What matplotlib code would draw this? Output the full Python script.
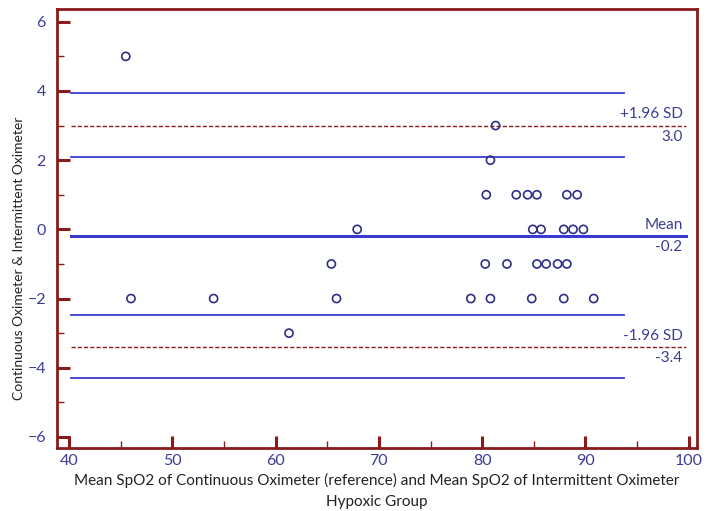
import matplotlib.pyplot as plt
from matplotlib.ticker import MultipleLocator

# Bland-Altman data (mean of methods, difference)
mean_spo2 = [45.5, 46.0, 54.0, 61.3, 65.4, 65.9, 67.9,
             81.3, 80.8,
             80.4, 83.3, 84.4, 85.3, 88.2, 89.2,
             84.9, 85.7, 87.9, 88.8, 89.8,
             80.3, 82.4, 85.3, 86.2, 87.3, 88.2,
             78.9, 80.8, 84.8, 87.9, 90.8]
diff_spo2 = [5, -2, -2, -3, -1, -2, 0,
             3, 2,
             1, 1, 1, 1, 1, 1,
             0, 0, 0, 0, 0,
             -1, -1, -1, -1, -1, -1,
             -2, -2, -2, -2, -2]

mean_diff = -0.2
upper_loa = 3.0
lower_loa = -3.4
ci_lines = [3.93, 2.09, -2.47, -4.29]

red = "#8b1a1a"
blue = "#3a3ad0"
navy = "#2e2e86"
label_col = "#3c3c96"

plt.rcParams["font.family"] = ["Lato", "DejaVu Sans"]

fig = plt.figure(figsize=(7.1, 5.11), dpi=100)
ax = fig.add_axes([0.0803, 0.1233, 0.9014, 0.8591])

for y in ci_lines:
    ax.plot([40.2, 93.7], [y, y], color=blue, lw=1.3)
ax.plot([40.2, 99.7], [mean_diff, mean_diff], color=blue, lw=2.2)
for y in (upper_loa, lower_loa):
    ax.plot([40.2, 99.7], [y, y], color=red, lw=1.0, ls=(0, (3, 1.5)))

ax.scatter(mean_spo2, diff_spo2, s=34, facecolors="none", edgecolors=navy,
           linewidths=1.2, zorder=3)

txt = dict(ha="right", color=label_col, fontsize=11)
ax.text(99.4, upper_loa + 0.12, "+1.96 SD", va="bottom", **txt)
ax.text(99.4, upper_loa - 0.12, "3.0", va="top", **txt)
ax.text(99.4, mean_diff + 0.12, "Mean", va="bottom", **txt)
ax.text(99.4, mean_diff - 0.12, "-0.2", va="top", **txt)
ax.text(99.4, lower_loa + 0.12, "-1.96 SD", va="bottom", **txt)
ax.text(99.4, lower_loa - 0.12, "-3.4", va="top", **txt)

ax.set_xlim(38.84, 100.8)
ax.set_ylim(-6.32, 6.37)
ax.xaxis.set_major_locator(MultipleLocator(10))
ax.xaxis.set_minor_locator(MultipleLocator(5))
ax.yaxis.set_major_locator(MultipleLocator(2))
ax.yaxis.set_minor_locator(MultipleLocator(1))

for s in ax.spines.values():
    s.set_color(red)
    s.set_linewidth(2)
ax.tick_params(which="major", direction="in", length=9, width=2.2, color=red,
               labelcolor=label_col, labelsize=11.5, top=False, right=False)
ax.tick_params(which="minor", direction="in", length=5, width=1, color=red,
               top=False, right=False)
ax.tick_params(axis="y", pad=8)
ax.tick_params(axis="x", pad=4)

ax.set_xlabel("Mean SpO2 of Continuous Oximeter (reference) and Mean SpO2 of Intermittent Oximeter\nHypoxic Group",
              fontsize=11, color="#222222", linespacing=1.6)
ax.set_ylabel("Continuous Oximeter & Intermittent Oximeter", fontsize=10, color="#222222")
ax.yaxis.set_label_coords(-0.05, 0.433)

fig.savefig("out.png", dpi=100)
